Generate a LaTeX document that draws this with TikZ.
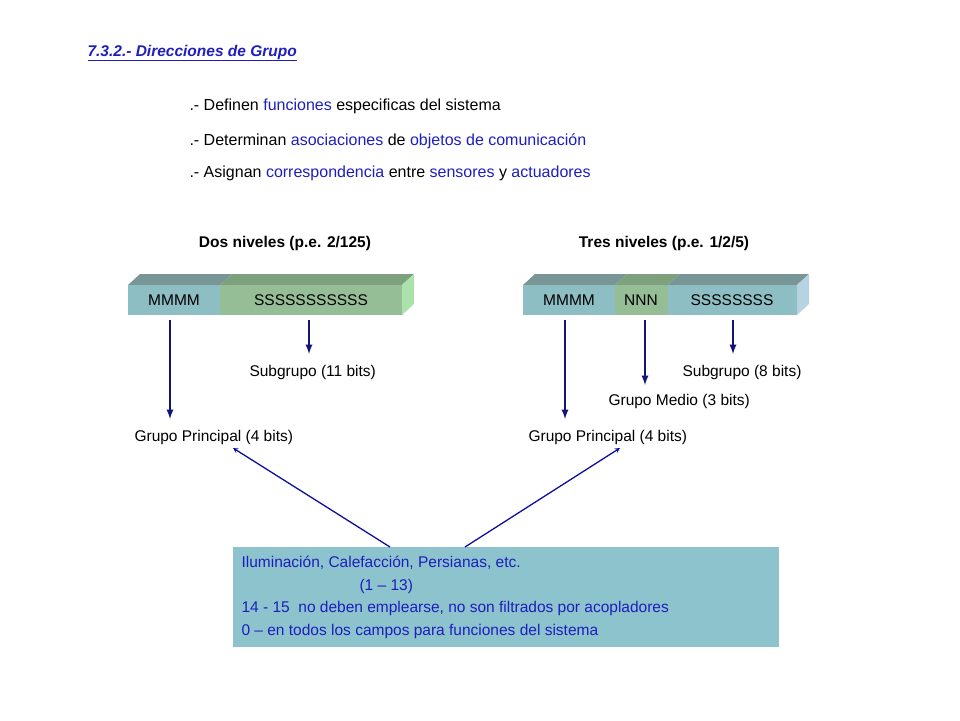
\documentclass[tikz,border=0pt]{standalone}
\usepackage{fontspec}
\setmainfont{Liberation Sans}
\definecolor{dblue}{RGB}{20,20,120}
\definecolor{tblue}{RGB}{30,30,190}
\definecolor{segM}{RGB}{140,190,195}
\definecolor{segS}{RGB}{150,190,150}
\definecolor{topM}{RGB}{120,150,150}
\definecolor{topS}{RGB}{125,160,125}
\definecolor{boxfill}{RGB}{140,195,205}
\tikzset{
  down/.style={->, >=latex, line width=2.2pt, draw=dblue},
  lbl/.style={font=\fontsize{15.5}{18}\selectfont, anchor=west},
  head/.style={font=\bfseries\fontsize{15.5}{18}\selectfont},
  txt/.style={anchor=west, font=\fontsize{16}{19}\selectfont}
}
\begin{document}
\begin{tikzpicture}[x=1pt,y=-1pt]
    \useasboundingbox (0,0) rectangle (960,720);
    % titulo
    \node[anchor=west, text=tblue, font=\bfseries\itshape\fontsize{15.5}{18}\selectfont] (title) at (84,53) {\underline{7.3.2.- Direcciones de Grupo}};
    \node[txt] (l1) at (186,106) {.- Definen {\color{tblue}funciones} especificas del sistema};
    \node[txt] (l2) at (186,141) {.- Determinan {\color{tblue}asociaciones} de {\color{tblue}objetos de comunicación}};
    \node[txt] (l3) at (186,173) {.- Asignan {\color{tblue}correspondencia} entre {\color{tblue}sensores} y {\color{tblue}actuadores}};
    \node[head] (h1) at (285,243) {Dos niveles (p.e. 2/125)};
    \node[head] (h2) at (664,243) {Tres niveles (p.e. 1/2/5)};
    % barra dos niveles
    \fill[topM] (128,285) -- (140,274) -- (232,274) -- (220,285) -- cycle;
    \fill[topS] (220,285) -- (232,274) -- (414,274) -- (402,285) -- cycle;
    \fill[green!25!segS!60!white] (402,285) -- (414,274) -- (414,304) -- (402,315) -- cycle;
    \fill[segM] (128,285) rectangle (220,315);
    \fill[segS] (220,285) rectangle (402,315);
    \node[lbl, anchor=center] (m1) at (174,300) {MMMM};
    \node[lbl, anchor=center] (s1) at (311,300) {SSSSSSSSSSS};
    % barra tres niveles
    \fill[topM] (523,285) -- (535,274) -- (627,274) -- (615,285) -- cycle;
    \fill[topS] (615,285) -- (627,274) -- (680,274) -- (668,285) -- cycle;
    \fill[topM] (668,285) -- (680,274) -- (809,274) -- (797,285) -- cycle;
    \fill[cyan!15!segM!60!white] (797,285) -- (809,274) -- (809,304) -- (797,315) -- cycle;
    \fill[segM] (523,285) rectangle (615,315);
    \fill[segS] (615,285) rectangle (668,315);
    \fill[segM] (668,285) rectangle (797,315);
    \node[lbl, anchor=center] (m2) at (569,300) {MMMM};
    \node[lbl, anchor=center] (n2) at (641,300) {NNN};
    \node[lbl, anchor=center] (s2) at (732,300) {SSSSSSSS};
    % etiquetas
    \node[lbl] (sub1) at (246,372) {Subgrupo (11 bits)};
    \node[lbl] (gp1) at (131,437) {Grupo Principal (4 bits)};
    \node[lbl] (sub2) at (679,372) {Subgrupo (8 bits)};
    \node[lbl] (gm2) at (605,401) {Grupo Medio (3 bits)};
    \node[lbl] (gp2) at (525,437) {Grupo Principal (4 bits)};
    \draw[down] (170,320) -- (170,419);
    \draw[down] (309,320) -- (309,354);
    \draw[down] (565,320) -- (565,419);
    \draw[down] (645,320) -- (645,385);
    \draw[down] (733,320) -- (733,354);
    % recuadro
    \node[fill=boxfill, anchor=north west, minimum width=546pt, minimum height=100pt, inner sep=0pt] (box) at (233,547) {};
    \node[anchor=north west, text=tblue, align=left, font=\fontsize{15.5}{22.5}\selectfont] (boxtxt) at (238,553) {Iluminación, Calefacción, Persianas, etc.\\\hspace*{118pt}(1 -- 13)\\14 - 15\ \ no deben emplearse, no son filtrados por acopladores\\0 -- en todos los campos para funciones del sistema};
    \draw[->, >=stealth, line width=1.3pt, draw=dblue!70!blue] (box.north west) ++(157,0) coordinate (a1) -- (233,448);
    \draw[->, >=stealth, line width=1.3pt, draw=dblue!70!blue] (box.north west) ++(232,0) coordinate (a2) -- (620,448);
\end{tikzpicture}
\end{document}
